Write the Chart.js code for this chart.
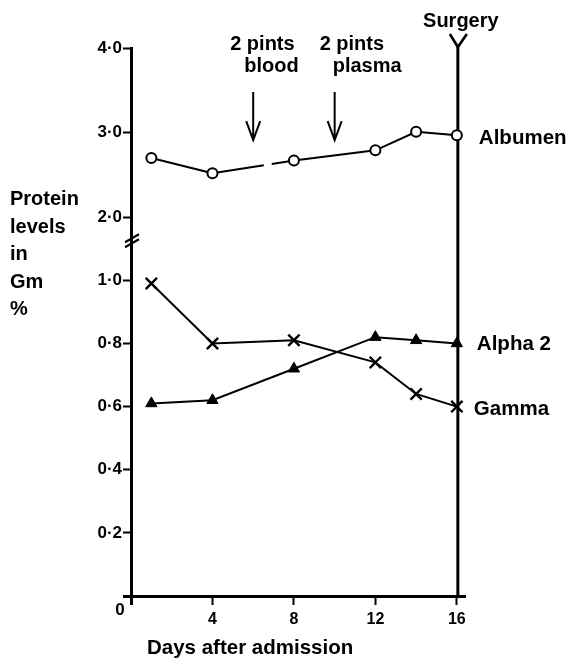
<!DOCTYPE html>
<html><head><meta charset="utf-8">
<script src="https://cdn.jsdelivr.net/npm/chart.js@4.4.1/dist/chart.umd.min.js"></script>
<style>html,body{margin:0;padding:0;background:#fff}</style>
</head><body>
<canvas id="c" width="569" height="661"></canvas>
<script>
// ---- data ----
const days = [1, 4, 8, 12, 14, 16];
const albumen = [2.70, 2.52, 2.67, 2.79, 3.01, 2.97];
const alpha2 = [0.61, 0.62, 0.72, 0.82, 0.81, 0.80];
const gamma = [0.99, 0.80, 0.81, 0.74, 0.64, 0.60];
const seriesNames = ['Albumen', 'Alpha 2', 'Gamma'];
const xTicks = [0, 4, 8, 12, 16];
const yTickValues = [0, 0.2, 0.4, 0.6, 0.8, 1.0, 2.0, 3.0, 4.0];
const yTickLabels = ['', '0·2', '0·4', '0·6', '0·8', '1·0', '2·0', '3·0', '4·0'];
const eventDays = [6, 10];
const eventLabels = [['2 pints', 'blood'], ['2 pints', 'plasma']];
const surgeryDay = 16;
const surgeryLabel = 'Surgery';
const yTitle = ['Protein', 'levels', 'in', 'Gm', '%'];
const xTitle = 'Days after admission';
const originLabel = '0';

// ---- broken axis transform: linear up to 1.0, compressed from 2.0 up ----
const BREAK_LOW = 1.0, BREAK_HIGH = 2.0, GAP = 0.2, UPPER_K = 0.268;
function toAxis(v) { return v <= BREAK_LOW ? v : BREAK_LOW + GAP + (v - BREAK_HIGH) * UPPER_K; }
const pts = arr => days.map((d, i) => ({x: d, y: toAxis(arr[i])}));

const FONT = '"Liberation Sans", Arial, sans-serif';
Chart.defaults.font.family = FONT;
Chart.defaults.font.weight = 'bold';
Chart.defaults.color = '#000';

const annot = {
  id: 'annot',
  beforeDatasetsDraw(chart) {
    const {ctx, scales: {x, y}} = chart;
    ctx.save();
    ctx.strokeStyle = '#000';
    ctx.fillStyle = '#000';
    ctx.lineCap = 'butt';
    // surgery line with Y fork
    const sx = x.getPixelForValue(surgeryDay) + 1;
    const top = y.getPixelForValue(toAxis(4.0));
    ctx.lineWidth = 3;
    ctx.beginPath(); ctx.moveTo(sx, top - 2); ctx.lineTo(sx, y.getPixelForValue(0)); ctx.stroke();
    ctx.lineWidth = 2.6;
    ctx.beginPath(); ctx.moveTo(sx - 8, top - 14); ctx.lineTo(sx, top - 1); ctx.lineTo(sx + 9, top - 14); ctx.stroke();
    // axis break marks
    const bx = x.left, by = y.getPixelForValue(1.13);
    ctx.lineWidth = 2.2;
    ctx.beginPath();
    ctx.moveTo(bx - 6, by + 3); ctx.lineTo(bx + 8, by - 5);
    ctx.moveTo(bx - 6, by + 8); ctx.lineTo(bx + 8, by);
    ctx.stroke();
    // arrows
    eventDays.forEach(d => {
      const ax = x.getPixelForValue(d);
      const y0 = y.getPixelForValue(toAxis(3.48)), y1 = y.getPixelForValue(toAxis(2.91));
      ctx.lineWidth = 2;
      ctx.beginPath(); ctx.moveTo(ax, y0); ctx.lineTo(ax, y1);
      ctx.moveTo(ax - 7, y1 - 19); ctx.lineTo(ax, y1); ctx.lineTo(ax + 7, y1 - 19);
      ctx.stroke();
    });
    ctx.restore();
  },
  afterDraw(chart) {
    const {ctx, scales: {x, y}} = chart;
    ctx.save();
    ctx.fillStyle = '#000';
    ctx.font = 'bold 20px ' + FONT;
    ctx.textBaseline = 'alphabetic';
    ctx.textAlign = 'left';
    // y title
    yTitle.forEach((t, i) => ctx.fillText(t, 10, 205 + i * 27.5));
    // event labels
    const ex0 = x.getPixelForValue(eventDays[0]), ex1 = x.getPixelForValue(eventDays[1]);
    ctx.fillText(eventLabels[0][0], ex0 - 23, 50);
    ctx.fillText(eventLabels[0][1], ex0 - 9, 72);
    ctx.fillText(eventLabels[1][0], ex1 - 15, 50);
    ctx.fillText(eventLabels[1][1], ex1 - 2, 72);
    // surgery
    ctx.textAlign = 'center';
    ctx.fillText(surgeryLabel, x.getPixelForValue(surgeryDay) + 4, 27);
    // series labels
    ctx.font = 'bold 20.5px ' + FONT;
    ctx.textAlign = 'left';
    const lx = x.getPixelForValue(surgeryDay);
    const last = [albumen, alpha2, gamma].map(a => a[a.length - 1]);
    const offs = [22, 20, 17];
    const base = [9, 7, 8];
    seriesNames.forEach((n, i) => ctx.fillText(n, lx + offs[i], y.getPixelForValue(toAxis(last[i])) + base[i]));
    // x title
    ctx.font = 'bold 20.5px ' + FONT;
    ctx.fillText(xTitle, 147, 654);
    // origin label
    ctx.font = 'bold 17px ' + FONT;
    ctx.textAlign = 'center';
    ctx.textBaseline = 'middle';
    ctx.fillText(originLabel, x.left - 11, y.getPixelForValue(0) + 14);
    ctx.restore();
  }
};

new Chart(document.getElementById('c'), {
  type: 'line',
  data: {
    datasets: [
      {
        label: seriesNames[0], data: pts(albumen),
        borderColor: '#000', borderWidth: 2,
        pointStyle: 'circle', pointRadius: 5, pointBackgroundColor: '#fff', pointBorderColor: '#000', pointBorderWidth: 2,
        segment: { borderDash: c => c.p0DataIndex === 1 ? [52, 8, 1000] : undefined }
      },
      {
        label: seriesNames[1], data: pts(alpha2),
        borderColor: '#000', borderWidth: 2,
        pointStyle: 'triangle', pointRadius: 6.5, pointBackgroundColor: '#000', pointBorderColor: '#000', pointBorderWidth: 1
      },
      {
        label: seriesNames[2], data: pts(gamma),
        borderColor: '#000', borderWidth: 2,
        pointStyle: 'crossRot', pointRadius: 8, pointBackgroundColor: '#000', pointBorderColor: '#000', pointBorderWidth: 2.4
      }
    ]
  },
  options: {
    responsive: false,
    devicePixelRatio: 1,
    animation: false,
    layout: { padding: { top: 48, right: 104, left: 0, bottom: 0 } },
    plugins: { legend: { display: false }, tooltip: { enabled: false } },
    elements: { line: { tension: 0 } },
    scales: {
      x: {
        type: 'linear', min: 0, max: 16.4,
        afterFit: s => { s.height = 65; },
        afterBuildTicks: s => { s.ticks = xTicks.map(v => ({value: v})); },
        ticks: { autoSkip: false, maxRotation: 0, padding: 5, font: { size: 16, weight: 'bold' },
                 callback: v => v === 0 ? '' : String(v) },
        grid: { drawOnChartArea: false, drawTicks: true, tickLength: 9, tickColor: '#000',
                tickWidth: c => c.tick && c.tick.value === 0 ? 3 : 2 },
        border: { display: true, color: '#000', width: 3 }
      },
      y: {
        type: 'linear', min: 0, max: toAxis(4.0),
        afterFit: s => { s.width = 131; },
        afterBuildTicks: s => { s.ticks = yTickValues.map(v => ({value: toAxis(v)})); },
        ticks: { autoSkip: false, padding: 1, font: { size: 17, weight: 'bold' },
                 callback: (v, i) => yTickLabels[i] },
        grid: { drawOnChartArea: false, drawTicks: true, tickLength: 8, tickColor: '#000',
                tickWidth: c => c.tick && c.tick.value === 0 ? 3 : 2 },
        border: { display: true, color: '#000', width: 3 }
      }
    }
  },
  plugins: [annot]
});
</script>
</body></html>
